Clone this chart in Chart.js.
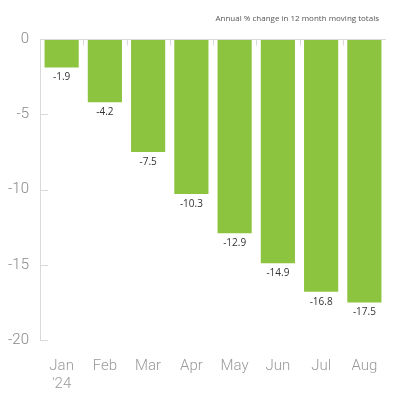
<!DOCTYPE html>
<html lang="en">
<head>
    <meta charset="UTF-8">
    <title>Annual % change in 12 month moving totals</title>
    <script src="https://cdn.jsdelivr.net/npm/chart.js"></script>
    <style>
        body {
            margin: 0;
            background: #ffffff;
        }

        .container {
            width: 400px;
            height: 400px;
        }
    </style>
</head>
<body>
    <div class="container">
        <canvas id="changeChart" width="400" height="400"></canvas>
    </div>

    <script>
        let months = [["Jan", "'24"], "Feb", "Mar", "Apr", "May", "Jun", "Jul", "Aug"];
        let changeValues = [-1.9, -4.2, -7.5, -10.3, -12.9, -14.9, -16.8, -17.5];
        let yTicks = [0, -5, -10, -15, -20];
        let chartTitle = "Annual % change in 12 month moving totals";

        const barGreen = '#8cc43f';
        const axisGrey = '#d9d9d9';

        // title, labels under each bar end, plus the small inside tick marks
        const markPlugin = {
            id: 'marks',
            afterDatasetsDraw(chart) {
                const ctx = chart.ctx;
                const area = chart.chartArea;
                const x = chart.scales.x;
                const y = chart.scales.y;

                ctx.save();
                ctx.strokeStyle = axisGrey;
                ctx.lineWidth = 1;

                // zero line with small marks between the bars
                const zeroY = Math.round(y.getPixelForValue(0)) + 0.5;
                ctx.beginPath();
                ctx.moveTo(area.left, zeroY);
                ctx.lineTo(area.right, zeroY);
                for (let i = 1; i < months.length; i++) {
                    let bx = Math.round((x.getPixelForValue(i - 1) + x.getPixelForValue(i)) / 2) + 0.5;
                    ctx.moveTo(bx, zeroY);
                    ctx.lineTo(bx, zeroY + 6);
                }
                ctx.stroke();

                // y ticks pointing into the plot
                ctx.beginPath();
                yTicks.forEach(function(v) {
                    let ty = Math.round(y.getPixelForValue(v)) + 0.5;
                    ctx.moveTo(area.left, ty);
                    ctx.lineTo(area.left + 8, ty);
                });
                ctx.stroke();

                // value labels
                ctx.fillStyle = '#333333';
                ctx.font = '10px "Open Sans"';
                ctx.textAlign = 'center';
                ctx.textBaseline = 'middle';
                chart.getDatasetMeta(0).data.forEach(function(bar, i) {
                    ctx.fillText(changeValues[i].toFixed(1), bar.x, bar.y + 10);
                });

                // small title, right aligned above the plot
                ctx.fillStyle = '#555555';
                ctx.font = '8px "Open Sans"';
                ctx.textAlign = 'right';
                ctx.fillText(chartTitle, area.right - 7, area.top - 20);
                ctx.restore();
            }
        };

        const ctx = document.getElementById('changeChart').getContext('2d');
        window.changeChart = new Chart(ctx, {
            type: 'bar',
            data: {
                labels: months,
                datasets: [{
                    label: 'Change',
                    data: changeValues,
                    backgroundColor: barGreen,
                    borderWidth: 0,
                    categoryPercentage: 0.79,
                    barPercentage: 1.0
                }]
            },
            options: {
                responsive: false,
                animation: false,
                layout: {
                    padding: { left: 0, right: 14, top: 39, bottom: 6 }
                },
                plugins: {
                    legend: { display: false },
                    tooltip: { enabled: false },
                    title: { display: false }
                },
                scales: {
                    x: {
                        grid: { display: false, drawTicks: false },
                        border: { display: false },
                        afterFit: function(scale) {
                            scale.height = 54;
                        },
                        ticks: {
                            color: '#999999',
                            font: { family: 'Roboto', size: 15, weight: 300 },
                            padding: 17,
                            maxRotation: 0
                        }
                    },
                    y: {
                        min: -20,
                        max: 0,
                        afterBuildTicks: function(scale) {
                            scale.ticks = yTicks.map(v => ({ value: v }));
                        },
                        afterFit: function(scale) {
                            scale.width = 40;
                        },
                        grid: { display: false, drawTicks: false },
                        border: { display: true, color: axisGrey },
                        ticks: {
                            color: '#888888',
                            font: { family: 'Roboto', size: 15, weight: 300 },
                            padding: 11
                        }
                    }
                }
            },
            plugins: [markPlugin]
        });
    </script>
</body>
</html>
